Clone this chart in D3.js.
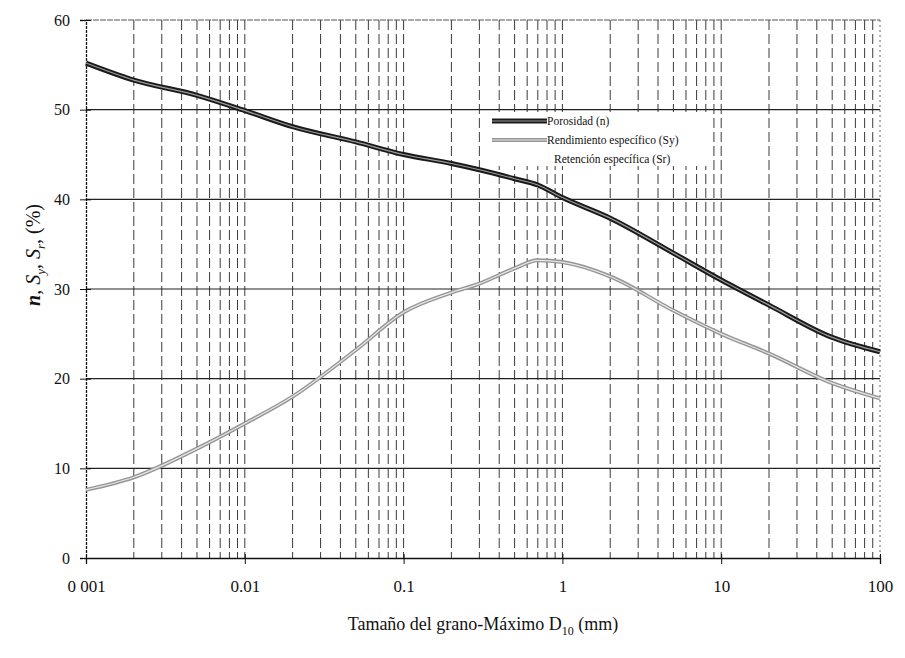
<!DOCTYPE html>
<html>
<head>
<meta charset="utf-8">
<script src="https://cdn.jsdelivr.net/npm/d3@7"></script>
<style>
  body { margin: 0; background: #fff; }
  svg text { font-family: "Liberation Serif", "DejaVu Serif", serif; fill: #111; }
</style>
</head>
<body>
<svg id="chart" width="905" height="658"></svg>
<script>
// grain size D10 (mm) and the two curves
const grainSize = [0.001, 0.002, 0.005, 0.01, 0.02, 0.05, 0.1, 0.2, 0.3, 0.5, 0.7, 1, 2, 5, 10, 20, 50, 100];
const porosity  = [55.2, 53.3, 51.6, 49.9, 48.1, 46.4, 45.0, 44.0, 43.3, 42.3, 41.6, 40.2, 37.9, 34.0, 31.0, 28.2, 24.6, 23.0];
const specYield = [7.6, 9.0, 12.2, 15.0, 18.0, 23.2, 27.4, 29.6, 30.6, 32.3, 33.2, 33.0, 31.4, 27.6, 25.0, 22.8, 19.5, 17.8];

const xTicks = [0.001, 0.01, 0.1, 1, 10, 100];
const xTickLabels = ["0 001", "0.01", "0.1", "1", "10", "100"];
const yTicks = [0, 10, 20, 30, 40, 50, 60];
const legendNames = ["Porosidad (n)", "Rendimiento específico (Sy)", "Retención específica (Sr)"];

const svg = d3.select("#chart");
const pLeft = 86, pRight = 880, pTop = 20, pBottom = 558;

const x = d3.scaleLog().domain([0.001, 100]).range([pLeft, pRight]);
const y = d3.scaleLinear().domain([0, 60]).range([pBottom, pTop]);

// minor + major vertical grid, dashed
let vLines = [];
for (let e = -3; e < 2; e++) {
    for (let k = 1; k <= 9; k++) {
        let v = k * Math.pow(10, e);
        if (v > 0.001) vLines.push(v);
    }
}

svg.append("g")
    .selectAll("line")
    .data(vLines)
    .join("line")
    .attr("x1", d => x(d)).attr("x2", d => x(d))
    .attr("y1", pTop).attr("y2", pBottom)
    .attr("stroke", "#3a3a3a")
    .attr("stroke-width", 1)
    .attr("stroke-dasharray", "10,4");

svg.append("g")
    .selectAll("line")
    .data(yTicks.filter(d => d > 0 && d < 60))
    .join("line")
    .attr("x1", pLeft).attr("x2", pRight)
    .attr("y1", d => y(d)).attr("y2", d => y(d))
    .attr("stroke", "#222")
    .attr("stroke-width", 1.2);

// frame
svg.append("line").attr("x1", pLeft).attr("x2", pRight).attr("y1", pTop).attr("y2", pTop)
    .attr("stroke", "#555").attr("stroke-width", 1).attr("stroke-dasharray", "6,1");
svg.append("line").attr("x1", pRight).attr("x2", pRight).attr("y1", pTop).attr("y2", pBottom)
    .attr("stroke", "#666").attr("stroke-width", 1).attr("stroke-dasharray", "2,3");

// axes
const xAxis = d3.axisBottom(x).tickValues(xTicks).tickSize(6).tickFormat((d, i) => xTickLabels[i]);
const gx = svg.append("g").attr("transform", `translate(0,${pBottom})`).call(xAxis);
gx.select(".domain").attr("stroke", "#111").attr("stroke-width", 1.3);
gx.selectAll(".tick line").attr("stroke", "#111").attr("y1", -4);
gx.selectAll(".tick text").attr("dy", "1.45em").style("font-size", "17px")
    .attr("text-anchor", "middle");

const yAxis = d3.axisLeft(y).tickValues(yTicks).tickSize(6).tickPadding(10);
const gy = svg.append("g").attr("transform", `translate(${pLeft},0)`).call(yAxis);
gy.select(".domain").attr("stroke", "#111").attr("stroke-width", 1.3).attr("stroke-dasharray", "3,1");
gy.selectAll(".tick line").attr("stroke", "#111").attr("x2", -6).attr("x1", 5);
gy.selectAll(".tick text").style("font-size", "16px");

// curves, drawn as a dark outline with a light core like the scan
const line = d3.line().curve(d3.curveMonotoneX);
const porPts = grainSize.map((d, i) => [x(d), y(porosity[i])]);
const syPts = grainSize.map((d, i) => [x(d), y(specYield[i])]);

svg.append("path").attr("d", line(porPts)).attr("fill", "none")
    .attr("stroke", "#1a1a1a").attr("stroke-width", 5);
svg.append("path").attr("d", line(porPts)).attr("fill", "none")
    .attr("stroke", "#9a9a9a").attr("stroke-width", 1.2);

svg.append("path").attr("d", line(syPts)).attr("fill", "none")
    .attr("stroke", "#959595").attr("stroke-width", 4);
svg.append("path").attr("d", line(syPts)).attr("fill", "none")
    .attr("stroke", "#e6e6e6").attr("stroke-width", 1.2);

// legend
const lg = svg.append("g").attr("transform", "translate(488,110)");
lg.append("rect").attr("x", 0).attr("y", 2).attr("width", 220).attr("height", 54)
    .attr("fill", "#fff");
const rows = lg.selectAll("g.row").data(legendNames).join("g")
    .attr("class", "row")
    .attr("transform", (d, i) => `translate(0,${11 + i * 19})`);
rows.append("text").attr("x", (d, i) => i == 2 ? 66 : 59).attr("y", 4)
    .style("font-size", "11.5px").text(d => d);
lg.append("line").attr("x1", 4).attr("x2", 59).attr("y1", 11).attr("y2", 11)
    .attr("stroke", "#1a1a1a").attr("stroke-width", 5);
lg.append("line").attr("x1", 4).attr("x2", 59).attr("y1", 11).attr("y2", 11)
    .attr("stroke", "#9a9a9a").attr("stroke-width", 1.2);
lg.append("line").attr("x1", 4).attr("x2", 59).attr("y1", 30).attr("y2", 30)
    .attr("stroke", "#959595").attr("stroke-width", 4);
lg.append("line").attr("x1", 4).attr("x2", 59).attr("y1", 30).attr("y2", 30)
    .attr("stroke", "#e6e6e6").attr("stroke-width", 1.2);

// axis titles
const xt = svg.append("text").attr("x", (pLeft + pRight) / 2).attr("y", 630)
    .attr("text-anchor", "middle").style("font-size", "18px");
xt.append("tspan").text("Tamaño del grano-Máximo D");
xt.append("tspan").attr("dy", 5).style("font-size", "12px").text("10");
xt.append("tspan").attr("dy", -5).text(" (mm)");

const yt = svg.append("text").attr("transform", "translate(40,255) rotate(-90)")
    .attr("text-anchor", "middle").style("font-size", "20px");
yt.append("tspan").style("font-style", "italic").style("font-weight", "bold").text("n");
yt.append("tspan").text(", ");
yt.append("tspan").style("font-style", "italic").text("S");
yt.append("tspan").attr("dy", 5).style("font-size", "13px").style("font-style", "italic").text("y");
yt.append("tspan").attr("dy", -5).text(", ");
yt.append("tspan").style("font-style", "italic").text("S");
yt.append("tspan").attr("dy", 5).style("font-size", "13px").style("font-style", "italic").text("r");
yt.append("tspan").attr("dy", -5).text(",  (%)");
</script>
</body>
</html>
